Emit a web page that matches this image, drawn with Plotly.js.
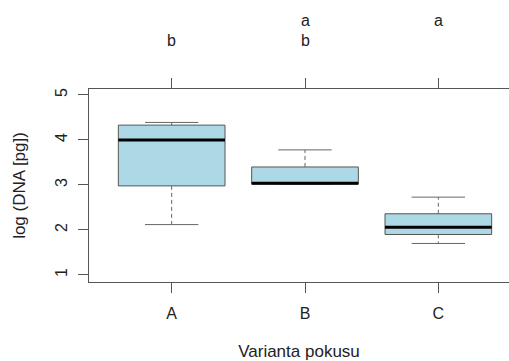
<!DOCTYPE html>
<html>
<head>
<meta charset="utf-8">
<script src="https://cdn.plot.ly/plotly-3.0.1.min.js"></script>
<style>html,body{margin:0;padding:0;background:#fff;}#chart{width:509px;height:361px;}</style>
</head>
<body>
<div id="chart"></div>
<script>
const categories = ["A", "B", "C"];
const lowerWhisker = [2.12, 3.02, 1.70];
const q1 = [2.98, 3.02, 1.90];
const median = [4.00, 3.04, 2.06];
const q3 = [4.33, 3.40, 2.36];
const upperWhisker = [4.39, 3.78, 2.73];
const groupLetters = ["b", "ab", "a"];
const yTicks = [1, 2, 3, 4, 5];

const pos = categories.map((c, i) => i + 1);
const boxW = 0.8, stapleW = 0.4;
const font = "Liberation Sans, Arial, Helvetica, sans-serif";
const lineCol = "#555";

const bars = {
  type: "bar", x: pos, base: q1, y: q3.map((v, i) => v - q1[i]), width: boxW,
  marker: {color: "#ADD8E6", line: {color: lineCol, width: 1}},
  hoverinfo: "skip", showlegend: false
};
const wx = [], wy = [];
pos.forEach((p, i) => { wx.push(p, p, null, p, p, null); wy.push(q3[i], upperWhisker[i], null, q1[i], lowerWhisker[i], null); });
const whiskers = {type: "scatter", mode: "lines", x: wx, y: wy, line: {color: "#666", width: 1, dash: "4px,3px"}, showlegend: false, hoverinfo: "skip"};
const sx = [], sy = [];
pos.forEach((p, i) => {
  sx.push(p - stapleW / 2, p + stapleW / 2, null, p - stapleW / 2, p + stapleW / 2, null);
  sy.push(upperWhisker[i], upperWhisker[i], null, lowerWhisker[i], lowerWhisker[i], null);
});
const staples = {type: "scatter", mode: "lines", x: sx, y: sy, line: {color: "#666", width: 1}, showlegend: false, hoverinfo: "skip"};
const mx = [], my = [];
pos.forEach((p, i) => { mx.push(p - boxW / 2, p + boxW / 2, null); my.push(median[i], median[i], null); });
const medians = {type: "scatter", mode: "lines", x: mx, y: my, line: {color: "#000", width: 3}, showlegend: false, hoverinfo: "skip"};

const plotTop = 89, plotBottom = 282, plotH = plotBottom - plotTop;
const rowPix = {a: 20, b: 40};
const annotations = [];
pos.forEach((p, i) => {
  groupLetters[i].split("").forEach(ch => {
    annotations.push({
      x: p, xref: "x", y: (plotBottom - rowPix[ch]) / plotH, yref: "paper",
      text: ch, showarrow: false, xanchor: "center", yanchor: "middle",
      font: {family: font, size: 16, color: "#222"}
    });
  });
});

const layout = {
  width: 509, height: 361,
  margin: {l: 89, r: 0, t: plotTop, b: 361 - plotBottom, pad: 0},
  paper_bgcolor: "#fff", plot_bgcolor: "#fff",
  font: {family: font, size: 16, color: "#222"},
  bargap: 0,
  xaxis: {
    range: [0.38, 3.53], tickmode: "array", tickvals: pos, ticktext: categories,
    ticks: "outside", ticklen: 10, tickcolor: lineCol, tickwidth: 1,
    showline: true, linecolor: lineCol, linewidth: 1, mirror: "ticks",
    showgrid: false, zeroline: false, automargin: false,
    ticklabelstandoff: 7,
    tickfont: {family: font, size: 16, color: "#222"},
    title: {text: "Varianta pokusu", font: {family: font, size: 17, color: "#222"}, standoff: 25}
  },
  yaxis: {
    range: [0.844, 5.133], tickmode: "array", tickvals: yTicks, ticktext: yTicks.map(String),
    tickangle: -90,
    ticks: "outside", ticklen: 10, tickcolor: lineCol, tickwidth: 1,
    showline: true, linecolor: lineCol, linewidth: 1, mirror: false,
    showgrid: false, zeroline: false, automargin: false,
    ticklabelstandoff: 5,
    tickfont: {family: font, size: 16, color: "#222"},
    title: {text: "log (DNA [pg])", font: {family: font, size: 17, color: "#222"}, standoff: 22}
  },
  annotations: annotations
};

Plotly.newPlot("chart", [bars, whiskers, staples, medians], layout, {staticPlot: true, displayModeBar: false});
</script>
</body>
</html>
